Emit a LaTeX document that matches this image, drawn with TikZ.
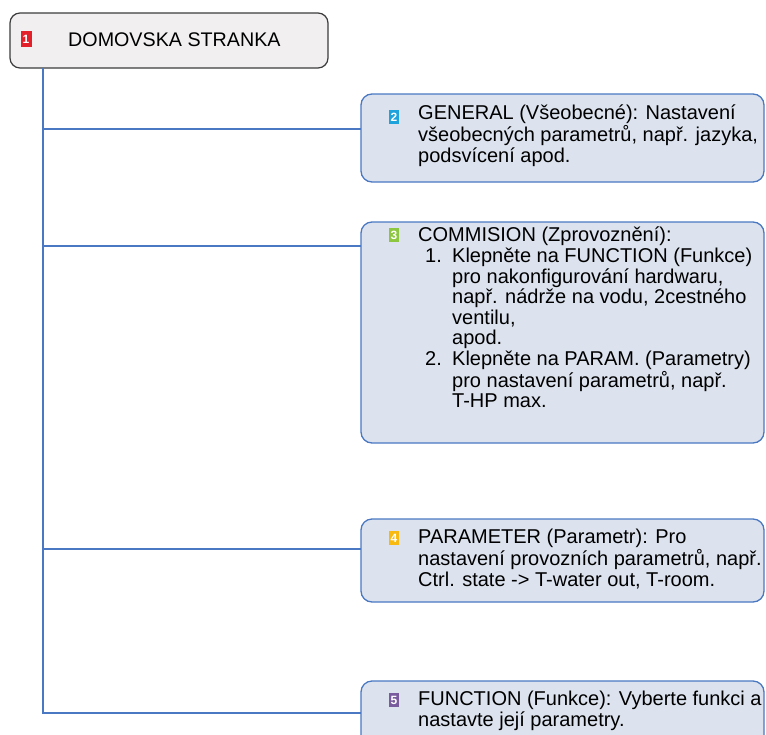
\documentclass[tikz,border=0pt]{standalone}
\usepackage{fontspec}
\setmainfont{Liberation Sans}
\definecolor{lineblue}{HTML}{4A78C2}
\definecolor{boxfill}{HTML}{DCE3EE}
\definecolor{homefill}{HTML}{F1EFEF}
\definecolor{homedraw}{HTML}{3C3C3C}
\definecolor{bred}{HTML}{E3202A}
\definecolor{bcyan}{HTML}{1EA3DC}
\definecolor{bgreen}{HTML}{8DC63F}
\definecolor{byellow}{HTML}{F8B910}
\definecolor{bpurple}{HTML}{7A5C9E}
\newcommand{\lnum}[1]{\makebox[34pt][l]{\hspace{7pt}#1}}
\newcommand{\lind}{\hspace*{34pt}}
\begin{document}
\begin{tikzpicture}[x=1pt,y=-1pt,
  conn/.style={draw=lineblue,line width=1.4pt},
  infobox/.style={draw=lineblue,fill=boxfill,line width=1.3pt,rounded corners=11pt},
  badge/.style={inner sep=0pt,minimum width=10pt,minimum height=14pt,text=white,font=\fontsize{12}{12}\selectfont\bfseries},
  txt/.style={anchor=north west,inner sep=0pt,font=\fontsize{20}{20}\selectfont}]
\useasboundingbox (0,0) rectangle (766,734);
\clip (0,0) rectangle (766,734);
\fill[white] (0,0) rectangle (766,734);
% home box
\draw[draw=homedraw,fill=homefill,line width=1.2pt,rounded corners=10pt] (10,13) rectangle (328,68);
\node[badge,fill=bred,minimum width=11pt,minimum height=16pt] (b1) at (26,39) {1};
\node[anchor=west,inner sep=0pt,font=\fontsize{19.7}{22}\selectfont] (home) at (68,40) {DOMOVSKA STRANKA};
\coordinate (root) at (43,68);
% boxes
\draw[infobox] (361,94) rectangle (764,182);
\node[badge,fill=bcyan] (b2) at (394,117) {2};
\node[txt] (t2) at (418,104.5) {\begin{tabular}{@{}l@{}}GENERAL (Všeobecné): Nastavení\\všeobecných parametrů, např. jazyka,\\podsvícení apod.\end{tabular}};
\draw[infobox] (361,222) rectangle (764,443);
\node[badge,fill=bgreen] (b3) at (394,235) {3};
\node[txt] (t3) at (418,227) {\begin{tabular}{@{}l@{}}COMMISION (Zprovoznění):\\
\lnum{1.}Klepněte na FUNCTION (Funkce)\\
\lind pro nakonfigurování hardwaru,\\
\lind např. nádrže na vodu, 2cestného\\
\lind ventilu,\\
\lind apod.\\
\lnum{2.}Klepněte na PARAM. (Parametry)\\
\lind pro nastavení parametrů, např.\\
\lind T-HP max.\end{tabular}};
\draw[infobox] (361,519) rectangle (764,602);
\node[badge,fill=byellow] (b4) at (394,538) {4};
\node[txt] (t4) at (418,529) {\begin{tabular}{@{}l@{}}PARAMETER (Parametr): Pro\\nastavení provozních parametrů, např.\\Ctrl. state -> T-water out, T-room.\end{tabular}};
\draw[infobox] (361,681) rectangle (764,750);
\node[badge,fill=bpurple] (b5) at (394,700) {5};
\node[txt] (t5) at (418,691) {\begin{tabular}{@{}l@{}}FUNCTION (Funkce): Vyberte funkci a\\nastavte její parametry.\end{tabular}};
% connectors
\coordinate (j2) at (43,129);
\coordinate (j3) at (43,246);
\coordinate (j4) at (43,549);
\coordinate (j5) at (43,713);
\coordinate (e2) at (361,129);
\coordinate (e3) at (361,246);
\coordinate (e4) at (361,549);
\coordinate (e5) at (361,713);
\draw[conn] (root) -- (j5) -- (e5);
\draw[conn] (j2) -- (e2);
\draw[conn] (j3) -- (e3);
\draw[conn] (j4) -- (e4);
\end{tikzpicture}
\end{document}
